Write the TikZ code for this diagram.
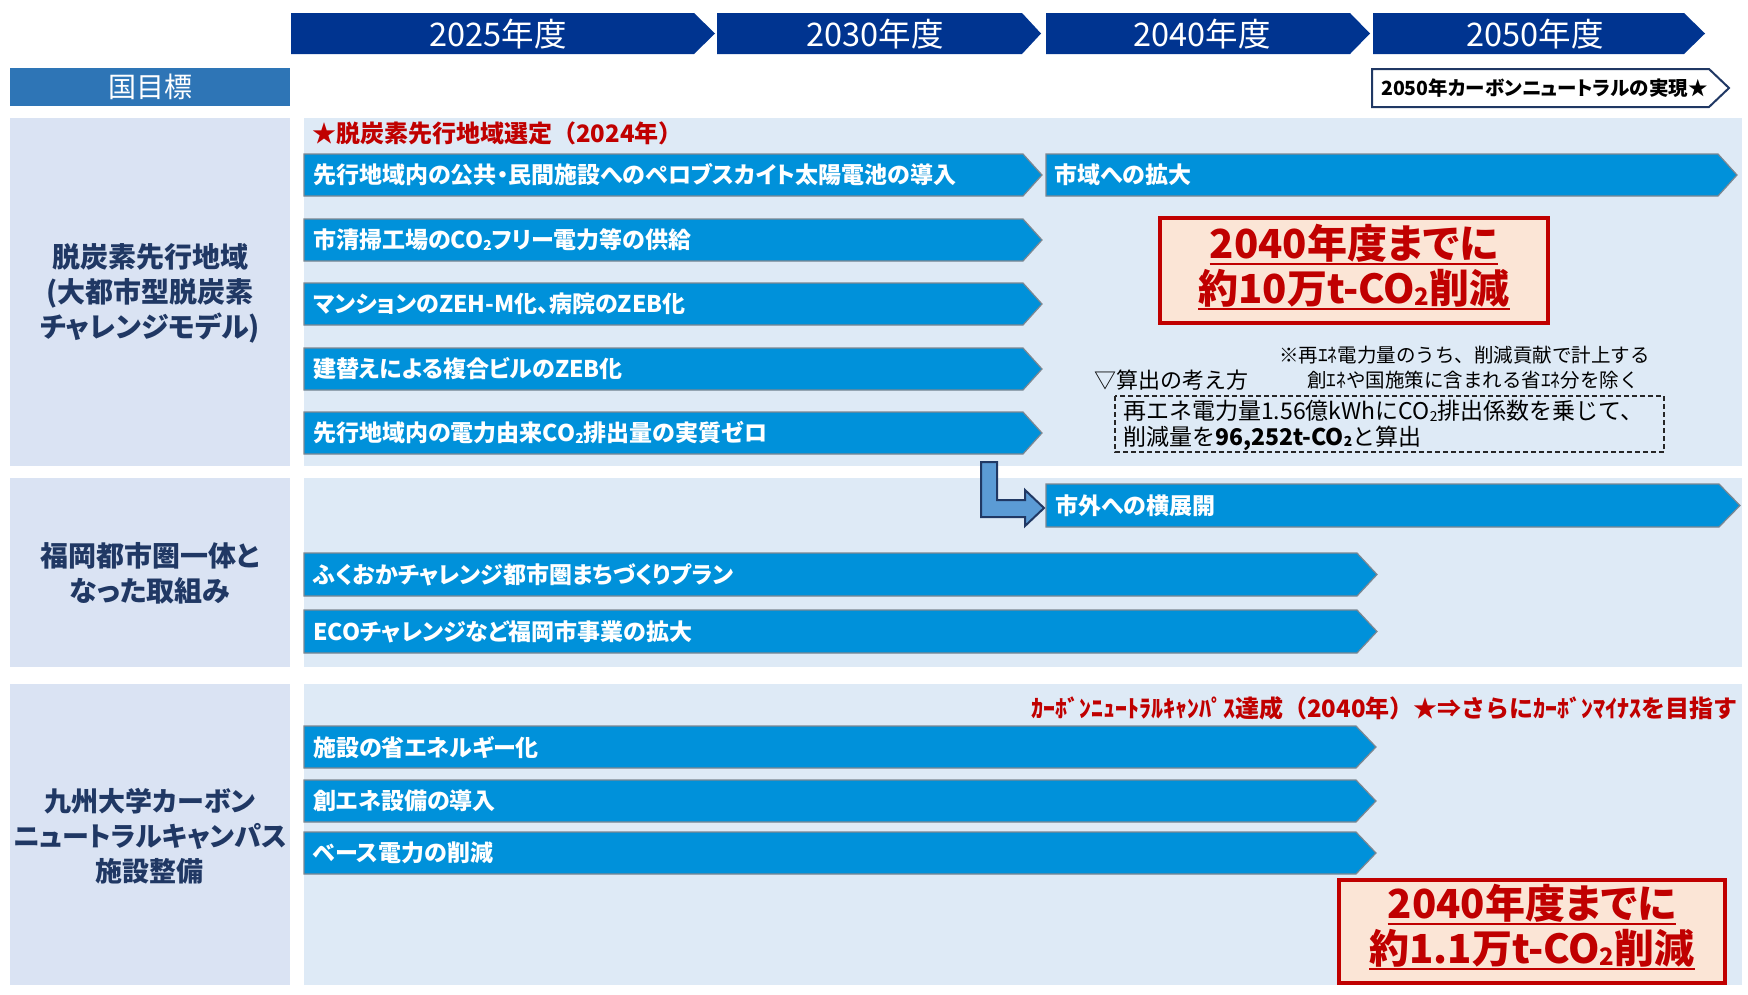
\documentclass[tikz,border=0pt]{standalone}
\usepackage{fontspec}
\setmainfont{Noto Sans CJK JP}[RawFeature={+palt}]
\newfontfamily\fullwfont{Noto Sans CJK JP}
\usetikzlibrary{calc}
\definecolor{yearblue}{RGB}{0,52,144}
\definecolor{kokublue}{RGB}{46,117,182}
\definecolor{barblue}{RGB}{0,145,218}
\definecolor{barline}{RGB}{125,135,145}
\definecolor{bgleft}{RGB}{218,227,243}
\definecolor{bgright}{RGB}{222,234,246}
\definecolor{navy}{RGB}{32,56,100}
\definecolor{darkred}{RGB}{192,0,0}
\definecolor{peach}{RGB}{251,229,214}
\definecolor{arrowblue}{RGB}{91,155,213}
\newcommand\ArrBar[6]{\path[#1] (#2,#3) -- (#4,#3) -- (#6,{(#3+#5)/2}) -- (#4,#5) -- (#2,#5) -- cycle;}
\newcommand\subtwo{\raisebox{-0.06em}{\scalebox{0.6}{2}}}
\begin{document}
\begin{tikzpicture}[x=1pt,y=-1pt,
  yearshape/.style={fill=yearblue},
  yeartext/.style={text=white,font=\fontsize{32.5}{36}\selectfont,inner sep=0},
  targetshape/.style={fill=white,draw=navy,line width=2pt},
  barshape/.style={fill=barblue,draw=barline,line width=1.2pt},
  bartext/.style={text=white,font=\fontsize{23}{27}\selectfont\bfseries,anchor=west,inner sep=0},
  seclabel/.style={text=navy,font=\fontsize{28}{35}\selectfont\bfseries,align=center,inner sep=0},
  redlabel/.style={text=darkred,font=\fullwfont\fontsize{24}{28}\selectfont\bfseries,inner sep=0},
  goalbox/.style={fill=peach,draw=darkred,line width=4.5pt},
  goaltext/.style={text=darkred,font=\fontsize{40}{44}\selectfont\bfseries,inner sep=0},
  uline/.style={draw=darkred,line width=2.5pt},
  notetext/.style={text=black,font=\fullwfont\fontsize{19.5}{24}\selectfont,inner sep=0,anchor=west},
  calcbox/.style={draw=black!85,line width=1.5pt,dash pattern=on 5pt off 3pt},
  calctext/.style={text=black,font=\fullwfont\fontsize{23}{27}\selectfont,inner sep=0,anchor=west},
  bentarrow/.style={fill=arrowblue,draw=navy,line width=2pt,line join=miter},
]
\fill[white] (0,0) rectangle (1748,994);
\useasboundingbox (0,0) rectangle (1748,994);

% year header
\ArrBar{yearshape}{291}{13}{694}{54}{715}
\node[yeartext] (y2025) at (498,34) {2025年度};
\ArrBar{yearshape}{717}{13}{1022}{54}{1041}
\node[yeartext] (y2030) at (875,34) {2030年度};
\ArrBar{yearshape}{1046}{13}{1350}{54}{1370}
\node[yeartext] (y2040) at (1202,34) {2040年度};
\ArrBar{yearshape}{1373}{13}{1684}{54}{1705}
\node[yeartext] (y2050) at (1535,34) {2050年度};

% national target row
\fill[kokublue] (10,68) rectangle (290,106);
\node[text=white,font=\fontsize{28}{32}\selectfont,inner sep=0] (koku) at (150,87) {国目標};
\ArrBar{targetshape}{1372}{69}{1709}{107}{1729}
\node[font=\fontsize{19.5}{23}\selectfont\bfseries,inner sep=0,anchor=west] (target) at (1381,88) {2050年カーボンニュートラルの実現★};

% section backgrounds
\fill[bgleft] (10,118) rectangle (290,466);
\fill[bgright] (304,118) rectangle (1742,466);
\fill[bgleft] (10,478) rectangle (290,667);
\fill[bgright] (304,478) rectangle (1742,667);
\fill[bgleft] (10,684) rectangle (290,985);
\fill[bgright] (304,684) rectangle (1742,985);

% section labels
\node[seclabel] (lab1) at (150,293) {脱炭素先行地域\\(大都市型脱炭素\\チャレンジモデル)};
\node[seclabel] (lab2) at (150,573) {福岡都市圏一体と\\なった取組み};
\node[seclabel,font=\fontsize{27}{35}\selectfont\bfseries] (lab3) at (150,836) {九州大学カーボン\\ニュートラルキャンパス\\施設整備};

% section 1
\node[redlabel,anchor=west] (sel) at (312,133) {★脱炭素先行地域選定（2024年）};
\ArrBar{barshape}{304}{154}{1023}{196}{1042}
\node[bartext] (r1a) at (313,175) {先行地域内の公共・民間施設へのペロブスカイト太陽電池の導入};
\ArrBar{barshape}{1046}{154}{1718}{196}{1737}
\node[bartext] (r1b) at (1054,175) {市域への拡大};
\ArrBar{barshape}{304}{219}{1023}{261}{1042}
\node[bartext] (r2) at (313,240) {市清掃工場のCO\subtwo フリー電力等の供給};
\ArrBar{barshape}{304}{283}{1023}{325}{1042}
\node[bartext] (r3) at (313,304) {マンションのZEH-M化、病院のZEB化};
\ArrBar{barshape}{304}{348}{1023}{390}{1042}
\node[bartext] (r4) at (313,369) {建替えによる複合ビルのZEB化};
\ArrBar{barshape}{304}{412}{1023}{454}{1042}
\node[bartext] (r5) at (313,433) {先行地域内の電力由来CO\subtwo 排出量の実質ゼロ};

\draw[goalbox] (1160,218) rectangle (1548,323);
\node[goaltext] (g1a) at (1354,243) {2040年度までに};
\node[goaltext] (g1b) at (1354,288) {約10万t-CO\subtwo 削減};
\draw[uline] ([yshift=-6pt]g1a.base west) -- ([yshift=-6pt]g1a.base east);
\draw[uline] ([yshift=-6pt]g1b.base west) -- ([yshift=-6pt]g1b.base east);

\node[notetext] (n1) at (1279,355) {※再ｴﾈ電力量のうち、削減貢献で計上する};
\node[notetext] (n2) at (1307,380) {創ｴﾈや国施策に含まれる省ｴﾈ分を除く};
\node[notetext,font=\fullwfont\fontsize{22}{26}\selectfont] (how) at (1094,380) {▽算出の考え方};
\draw[calcbox] (1115,396) rectangle (1664,452);
\node[calctext] (c1) at (1123,411) {再エネ電力量1.56億kWhにCO\subtwo 排出係数を乗じて、};
\node[calctext] (c2) at (1123,438) {削減量を\textbf{96,252t-CO\subtwo}と算出};

% section 2
\ArrBar{barshape}{1046}{484}{1719}{527}{1740}
\node[bartext] (r6) at (1055,505.5) {市外への横展開};
\ArrBar{barshape}{304}{553}{1357}{596}{1377}
\node[bartext] (r7) at (313,574.5) {ふくおかチャレンジ都市圏まちづくりプラン};
\ArrBar{barshape}{304}{610}{1357}{653}{1377}
\node[bartext] (r8) at (313,631.5) {ECOチャレンジなど福岡市事業の拡大};

\draw[bentarrow] (981,462) -- (997,462) -- (997,500) -- (1025,500) -- (1025,490) -- (1044,508) -- (1025,526) -- (1025,517) -- (981,517) -- cycle;

% section 3
\node[redlabel,anchor=east] (cnc) at (1738,708) {ｶｰﾎﾞﾝﾆｭｰﾄﾗﾙｷｬﾝﾊﾟｽ達成（2040年）★⇒さらにｶｰﾎﾞﾝﾏｲﾅｽを目指す};
\ArrBar{barshape}{304}{726}{1356}{768}{1376}
\node[bartext] (r9) at (313,747) {施設の省エネルギー化};
\ArrBar{barshape}{304}{780}{1356}{822}{1376}
\node[bartext] (r10) at (313,801) {創エネ設備の導入};
\ArrBar{barshape}{304}{832}{1356}{874}{1376}
\node[bartext] (r11) at (313,853) {ベース電力の削減};

\draw[goalbox] (1339,880) rectangle (1725,983);
\node[goaltext] (g2a) at (1532,903) {2040年度までに};
\node[goaltext] (g2b) at (1532,948) {約1.1万t-CO\subtwo 削減};
\draw[uline] ([yshift=-6pt]g2a.base west) -- ([yshift=-6pt]g2a.base east);
\draw[uline] ([yshift=-6pt]g2b.base west) -- ([yshift=-6pt]g2b.base east);
\end{tikzpicture}
\end{document}
